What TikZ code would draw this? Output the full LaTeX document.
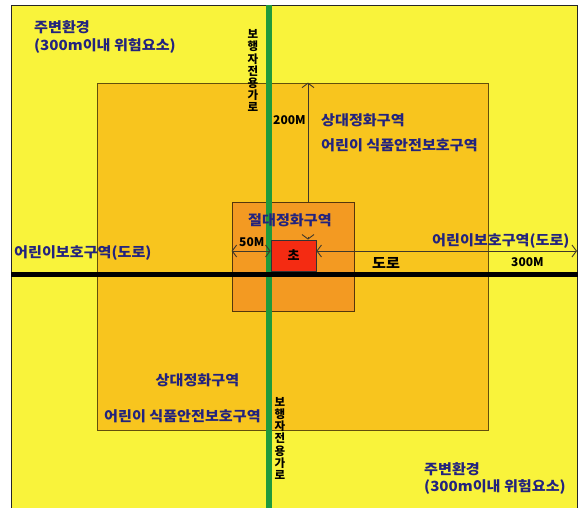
\documentclass[tikz,border=0pt]{standalone}
\usepackage{fontspec}
\setmainfont{Noto Sans CJK KR}
\newfontfamily\krwide{Noto Sans CJK KR}[FakeStretch=1.08]
\usetikzlibrary{arrows.meta}
\definecolor{yel}{HTML}{F9F33B}
\definecolor{org}{HTML}{F8C51E}
\definecolor{dorg}{HTML}{F39A22}
\definecolor{redb}{HTML}{F42B12}
\definecolor{grn}{HTML}{1F9A3C}
\definecolor{navy}{HTML}{23237E}
\definecolor{arr}{HTML}{40382A}
\begin{document}
\begin{tikzpicture}[x=1pt,y=-1pt,
  lbl/.style={font=\krwide\bfseries\fontsize{14}{15}\selectfont, text=navy, inner sep=0pt, anchor=west},
  dimlbl/.style={font=\bfseries\fontsize{12}{14}\selectfont, text=black, inner sep=0pt, anchor=west},
  vert/.style={font=\bfseries\fontsize{11.5}{12.2}\selectfont, text=black, inner sep=0pt, align=center},
  zone/.style={draw, inner sep=0pt},
  dim/.style={draw=arr, line width=0.9pt, {Straight Barb[length=4.5pt,width=12pt]}-{Straight Barb[length=4.5pt,width=12pt]}},
  dimtip/.style={draw=arr, line width=0.9pt, -{Straight Barb[length=4.5pt,width=12pt]}}]
\useasboundingbox (0,0) rectangle (578,508);
\begin{scope}
\clip (0,0) rectangle (578,508);
\fill[white] (0,0) rectangle (578,508);
\node[zone, fill=yel, draw=black!85, line width=1.2pt, minimum width=565.5pt, minimum height=520pt, anchor=north west] (outer) at (11,5) {};
\node[zone, fill=org, draw=black!60!org, line width=0.8pt, minimum width=391pt, minimum height=347pt] (rel) at (292.5,256.5) {};
\coordinate (ax) at (308,0);
\coordinate (ay) at (0,251);
\coordinate (rend) at (577,251);
\coordinate (sch) at (308,240);
\draw[dim] (ax |- rel.north) -- (sch);
\node[zone, fill=dorg, draw=black!65!dorg, line width=0.8pt, minimum width=122pt, minimum height=109pt] (abs) at (293,256.5) {};
\draw[grn, line width=6pt] (269,5) -- (269,508);
\draw[black, line width=5pt] (11,274.5) -- (578,274.5);
\node[zone, fill=redb, draw=black!80, line width=0.8pt, minimum width=45pt, minimum height=31pt, font=\bfseries\fontsize{13}{15}\selectfont] (school) at (293.5,255.5) {초};
\end{scope}
% dimension arrows
\draw[dimtip] (ax |- school.north) ++(0,-3) -- (ax |- school.north);
\draw[dim] (abs.west |- ay) -- (school.west |- ay);
\draw[dim] (school.east |- ay) -- (rend);
% labels
\node[lbl] (tl1) at (34,27.5) {주변환경};
\node[lbl] (tl2) at (34,46) {(300m이내 위험요소)};
\node[lbl] (br1) at (424,469) {주변환경};
\node[lbl] (br2) at (424,486.5) {(300m이내 위험요소)};
\node[lbl] (rt1) at (321,120) {상대정화구역};
\node[lbl] (rt2) at (321,145.5) {어린이 식품안전보호구역};
\node[lbl] (rb1) at (155.5,380) {상대정화구역};
\node[lbl] (rb2) at (104,416.5) {어린이 식품안전보호구역};
\node[lbl] (ab) at (248,220) {절대정화구역};
\node[lbl] (cl) at (14,253) {어린이보호구역(도로)};
\node[lbl] (cr) at (432,241.5) {어린이보호구역(도로)};
\node[lbl, text=black] (road) at (372,263) {도로};
\node[dimlbl] (m200) at (273,120.5) {200M};
\node[dimlbl] (m50) at (239,242) {50M};
\node[dimlbl] (m300) at (511,262) {300M};
\node[vert] (wt) at (253,70.8) {보\\행\\자\\전\\용\\가\\로};
\node[vert] (wb) at (280,438.3) {보\\행\\자\\전\\용\\가\\로};
\end{tikzpicture}
\end{document}
